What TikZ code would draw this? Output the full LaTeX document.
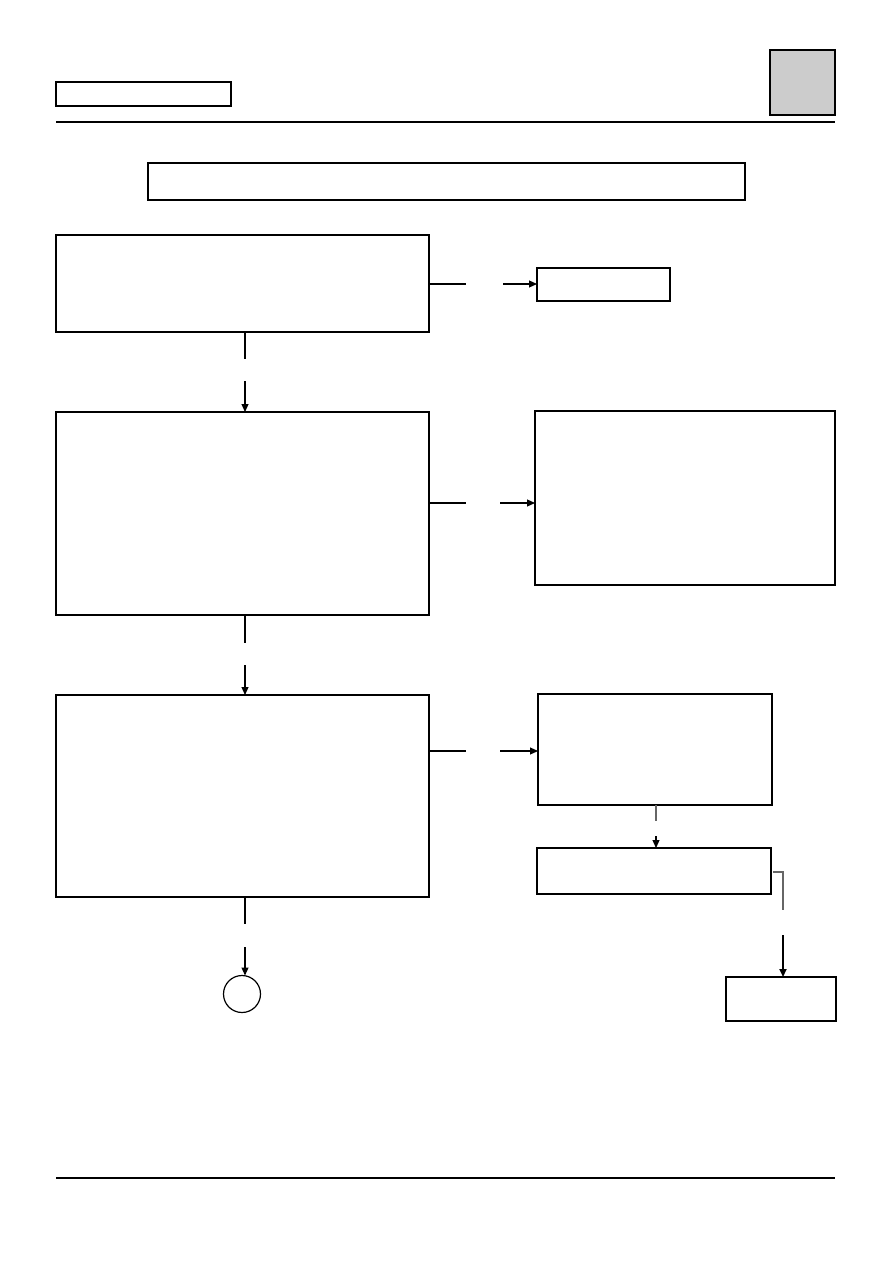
\documentclass[tikz,border=0pt]{standalone}
\usetikzlibrary{arrows.meta,calc}
\definecolor{tabgray}{HTML}{CCCCCC}
\definecolor{lgray}{HTML}{666666}
\begin{document}
\begin{tikzpicture}[x=1pt,y=-1pt,
  box/.style={draw=black,line width=1.3pt,inner sep=0pt,outer sep=0pt,anchor=north west,fill=white},
  conn/.style={draw=black,line width=1.1pt},
  arr/.style={conn,-{Triangle[length=8pt,width=7pt]}}]
\useasboundingbox[fill=white] (0,0) rectangle (893,1263);
% header
\node[box,minimum width=175pt,minimum height=24pt] (hdr) at (56,82) {};
\node[box,fill=tabgray,minimum width=65pt,minimum height=65pt] (tab) at (770,50) {};
\draw[line width=2.3pt] (56,122) -- (835,122);
\node[box,minimum width=597pt,minimum height=37pt] (title) at (148,163) {};
% main column
\node[box,minimum width=373pt,minimum height=97pt] (b1) at (56,235) {};
\node[box,minimum width=373pt,minimum height=203pt] (b2) at (56,412) {};
\node[box,minimum width=373pt,minimum height=202pt] (b3) at (56,695) {};
\node[draw=black,line width=1.2pt,circle,minimum size=37pt,inner sep=0pt,outer sep=0pt] (c1) at (242,994) {};
% right column
\node[box,minimum width=133pt,minimum height=33pt] (b1r) at (537,268) {};
\draw[line width=2.4pt] (b1r.north west) -- (b1r.north east);
\node[box,minimum width=300pt,minimum height=174pt] (b2r) at (535,411) {};
\node[box,minimum width=234pt,minimum height=111pt] (b3r) at (538,694) {};
\node[box,minimum width=234pt,minimum height=46pt] (b4) at (537,848) {};
\draw[line width=2.4pt] (b4.south west) -- (b4.south east);
\node[box,minimum width=110pt,minimum height=44pt] (b5) at (726,977) {};
% gap coordinates
\coordinate (g1a) at (466,284); \coordinate (g1b) at (503,284);
\coordinate (d1a) at (245,359); \coordinate (d1b) at (245,381);
\coordinate (g2a) at (466,503); \coordinate (g2b) at (500,503);
\coordinate (d2a) at (245,643); \coordinate (d2b) at (245,665);
\coordinate (g3a) at (466,751); \coordinate (g3b) at (500,751);
\coordinate (d3a) at (245,924); \coordinate (d3b) at (245,947);
\coordinate (r3a) at (656,821); \coordinate (r3b) at (656,836);
\coordinate (r4c) at (783,872); \coordinate (r4a) at (783,910); \coordinate (r4b) at (783,935);
% connectors
\draw[conn] (g1a -| b1.east) -- (g1a);
\draw[arr] (g1b) -- (g1b -| b1r.west);
\draw[conn] (d1a |- b1.south) -- (d1a);
\draw[arr] (d1b) -- (d1b |- b2.north);
\draw[conn] (g2a -| b2.east) -- (g2a);
\draw[arr] (g2b) -- (g2b -| b2r.west);
\draw[conn] (d2a |- b2.south) -- (d2a);
\draw[arr] (d2b) -- (d2b |- b3.north);
\draw[conn] (g3a -| b3.east) -- (g3a);
\draw[arr] (g3b) -- (g3b -| b3r.west);
\draw[conn] (d3a |- b3.south) -- (d3a);
\draw[arr] (d3b) -- (d3b |- c1.north);
\draw[conn,draw=lgray] (r3a |- b3r.south) -- (r3a);
\draw[arr] (r3b) -- (r3b |- b4.north);
\draw[conn,draw=lgray] ($(b4.east |- r4c)+(2,0)$) -- (r4c) -- (r4a);
\draw[arr,line width=1.9pt] (r4b) -- (r4b |- b5.north);
% footer
\draw[line width=2.3pt] (56,1178) -- (835,1178);
\end{tikzpicture}
\end{document}
